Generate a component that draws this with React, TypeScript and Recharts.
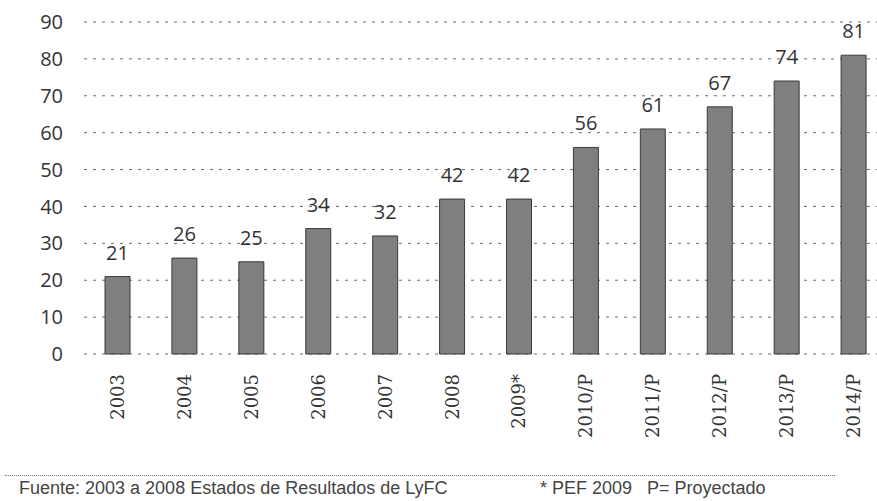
import { BarChart, Bar, XAxis, YAxis, CartesianGrid, LabelList } from "recharts";

const years = ["2003", "2004", "2005", "2006", "2007", "2008", "2009*", "2010/P", "2011/P", "2012/P", "2013/P", "2014/P"];
const values = [21, 26, 25, 34, 32, 42, 42, 56, 61, 67, 74, 81];
const yTicks = [0, 10, 20, 30, 40, 50, 60, 70, 80, 90];

const data = years.map((year, i) => ({ year, value: values[i] }));

const YearTick = (props: any) => {
  const { x, y, payload } = props;
  return (
    <text
      x={x}
      y={y}
      transform={`rotate(-90 ${x} ${y})`}
      textAnchor="end"
      dy="0.36em"
      fontFamily="DejaVu Serif"
      fontSize={18}
      fill="#333"
    >
      {payload.value}
    </text>
  );
};

export default function App() {
  return (
    <div
      style={{
        position: "absolute",
        left: 0,
        top: 0,
        width: 877,
        height: 501,
        overflow: "hidden",
        background: "#fff"
      }}
    >
      <BarChart
        width={890}
        height={440}
        data={data}
        margin={{ top: 22, right: 3, bottom: 0, left: 0 }}
      >
        <CartesianGrid vertical={false} stroke="#6a6a6a" strokeDasharray="3 6" />
        <XAxis
          dataKey="year"
          interval={0}
          height={86}
          axisLine={false}
          tickLine={false}
          tickMargin={14}
          tick={<YearTick />}
        />
        <YAxis
          width={84}
          domain={[0, 90]}
          ticks={yTicks}
          axisLine={false}
          tickLine={false}
          tickMargin={15}
          tick={{ fontFamily: "Open Sans", fontSize: 20, fill: "#333" }}
        />
        <Bar
          dataKey="value"
          barSize={25}
          fill="#7f7f7f"
          stroke="#3a3a3a"
          strokeWidth={1}
          isAnimationActive={false}
        >
          <LabelList
            dataKey="value"
            position="top"
            offset={17}
            style={{ fontFamily: "Open Sans", fontSize: 20, fill: "#333" }}
          />
        </Bar>
      </BarChart>
      <div
        style={{
          position: "absolute",
          left: 5,
          top: 475,
          width: 830,
          borderTop: "1px dotted #777"
        }}
      />
      <div
        style={{
          position: "absolute",
          left: 19,
          top: 478,
          width: 850,
          fontFamily: "Liberation Sans",
          fontSize: 18,
          color: "#444",
          whiteSpace: "nowrap"
        }}
      >
        <span>Fuente: 2003 a 2008 Estados de Resultados de LyFC</span>
        <span style={{ position: "absolute", left: 521 }}>* PEF 2009</span>
        <span style={{ position: "absolute", left: 628 }}>P= Proyectado</span>
      </div>
    </div>
  );
}
